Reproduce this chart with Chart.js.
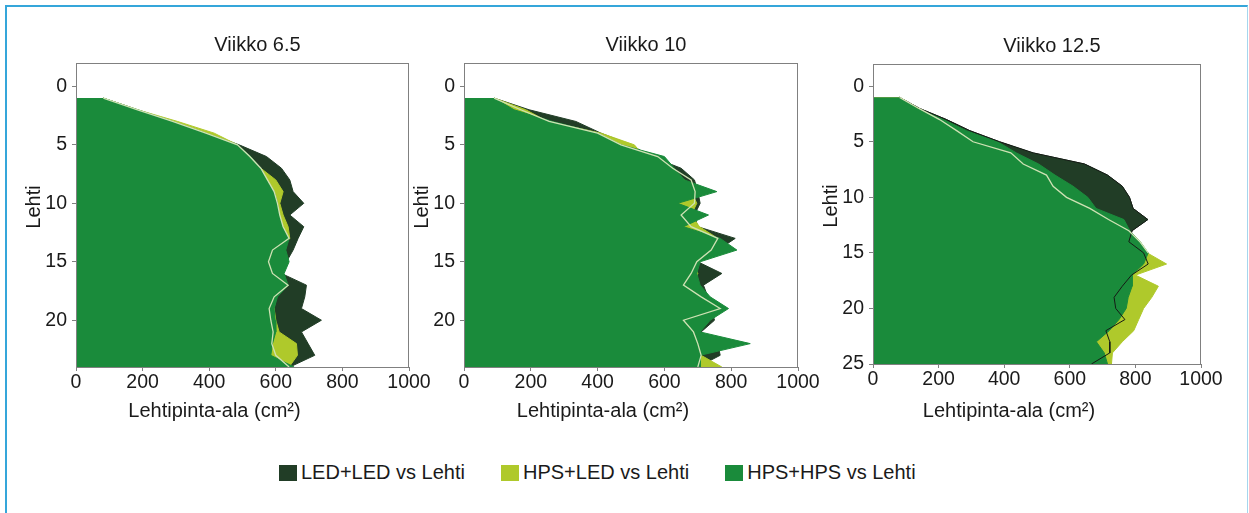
<!DOCTYPE html>
<html lang="fi">
<head>
<meta charset="utf-8">
<title>Lehtipinta-ala</title>
<script src="https://cdn.jsdelivr.net/npm/chart.js@4.4.1/dist/chart.umd.min.js"></script>
<style>
  body { margin: 0; background: #fff; }
  #wrap { position: relative; width: 1249px; height: 513px; overflow: hidden; font-family: "Liberation Sans", Arial, sans-serif; }
  #frame { position: absolute; left: 5px; top: 5px; width: 1240px; height: 530px; border-top: 2px solid #35a6da; border-left: 2px solid #35a6da; border-right: 1px solid #a6d6ee; }
  canvas { position: absolute; top: 0; }
  #legend { position: absolute; left: 279px; top: 461px; display: flex; gap: 36px; font-size: 20px; color: #1a1a1a; }
  .item { display: flex; align-items: center; gap: 4px; }
  .box { width: 18px; height: 16px; }
</style>
</head>
<body>
<div id="wrap">
  <div id="frame"></div>
  <canvas id="c1" width="434" height="440" style="left:0px"></canvas>
  <canvas id="c2" width="413" height="440" style="left:410px"></canvas>
  <canvas id="c3" width="406" height="440" style="left:820px"></canvas>
  <div id="legend"></div>
</div>
<script>
// leaf numbers (y) and ticks
const lehdet24 = [1, 2, 3, 4, 5, 6, 7, 8, 9, 10, 11, 12, 13, 14, 15, 16, 17, 18, 19, 20, 21, 22, 23, 24];
const lehdet25 = [1, 2, 3, 4, 5, 6, 7, 8, 9, 10, 11, 12, 13, 14, 15, 16, 17, 18, 19, 20, 21, 22, 23, 24, 25];
const xTicks = [0, 200, 400, 600, 800, 1000];
const yTicks24 = [0, 5, 10, 15, 20];
const yTicks25 = [0, 5, 10, 15, 20, 25];

const seriesNames = ['LED+LED vs Lehti', 'HPS+LED vs Lehti', 'HPS+HPS vs Lehti'];
const seriesColors = ['#213d26', '#afc92b', '#1a8b3b'];
const paleColor = '#cfe2b4';
const lineColor = '#151a15';
const axisColor = '#808080';
const textColor = '#1a1a1a';
const fontFamily = '"Liberation Sans", Arial, sans-serif';

// Viikko 6.5 (cm2)
const led65 = [82, 185, 290, 395, 490, 572, 617, 642, 652, 684, 642, 684, 667, 652, 632, 617, 692, 687, 677, 737, 677, 697, 717, 642];
const hpsLed65 = [82, 185, 305, 415, 485, 520, 555, 600, 622, 612, 622, 637, 642, 610, 600, 610, 620, 600, 595, 600, 610, 662, 665, 640];
const hps65 = [82, 185, 290, 390, 485, 525, 555, 572, 595, 605, 610, 620, 640, 630, 640, 625, 637, 605, 595, 598, 600, 590, 585, 655];
const pale65 = [82, 185, 290, 390, 485, 522, 555, 575, 595, 605, 612, 622, 640, 590, 578, 590, 637, 595, 580, 585, 592, 588, 600, 640];

// Viikko 10
const led10 = [90, 195, 335, 410, 500, 560, 650, 690, 700, 707, 690, 700, 812, 760, 700, 772, 717, 730, 740, 750, 710, 760, 767, 700];
const hpsLed10 = [90, 185, 250, 410, 510, 540, 600, 660, 680, 697, 680, 705, 760, 740, 690, 700, 690, 720, 740, 700, 700, 720, 710, 772];
const hps10 = [90, 150, 265, 400, 470, 600, 630, 660, 757, 640, 732, 657, 767, 817, 707, 697, 707, 737, 792, 737, 707, 857, 707, 707];
const pale10 = [90, 170, 255, 400, 470, 580, 625, 680, 692, 690, 650, 680, 760, 740, 697, 680, 657, 710, 767, 657, 687, 700, 710, 700];

// Viikko 12.5
const led125 = [81, 142, 224, 295, 386, 488, 645, 715, 760, 782, 793, 838, 790, 780, 825, 839, 788, 760, 735, 740, 768, 710, 722, 722, 666];
const hpsLed125 = [81, 140, 203, 255, 305, 420, 458, 529, 549, 590, 661, 718, 780, 814, 836, 895, 800, 870, 850, 825, 810, 795, 760, 730, 727];
const hps125 = [81, 135, 215, 285, 380, 437, 505, 555, 610, 655, 680, 765, 783, 815, 839, 825, 790, 790, 778, 772, 750, 720, 681, 705, 715];
const pale125 = [81, 140, 203, 255, 305, 420, 458, 529, 549, 590, 661, 718, 780, 814, 839, null, null, null, null, null, null, null, null, null, null];

function pisteet(lehdet, arvot) {
  return arvot.map((v, i) => ({ x: v, y: lehdet[i] }));
}

function alue(i, lehdet, arvot) {
  return {
    label: seriesNames[i],
    data: pisteet(lehdet, arvot),
    borderColor: seriesColors[i],
    backgroundColor: seriesColors[i],
    borderWidth: 1,
    fill: 'origin',
    pointRadius: 0,
    order: 3 - i
  };
}

function viiva(lehdet, arvot, color, width) {
  return {
    label: '',
    data: pisteet(lehdet, arvot),
    borderColor: color,
    borderWidth: width,
    fill: false,
    pointRadius: 0,
    order: 0
  };
}

// titles, axis titles and the box round the plot
const panelTexts = {
  id: 'panelTexts',
  afterDraw(chart, args, opts) {
    const { ctx, chartArea: a } = chart;
    const cx = (a.left + a.right) / 2;
    ctx.save();
    ctx.strokeStyle = axisColor;
    ctx.lineWidth = 1;
    ctx.strokeRect(Math.round(a.left) + 0.5, Math.round(a.top) + 0.5, Math.round(a.right - a.left) - 1, Math.round(a.bottom - a.top));
    ctx.fillStyle = textColor;
    ctx.font = '20px ' + fontFamily;
    ctx.textAlign = 'center';
    ctx.textBaseline = 'middle';
    ctx.fillText(opts.title, cx + 15, a.top - 18);
    ctx.fillText('Lehtipinta-ala (cm²)', cx - 28, opts.xTitleY);
    ctx.translate(a.left - 42, (a.top + a.bottom) / 2 - 8);
    ctx.rotate(-Math.PI / 2);
    ctx.fillText('Lehti', 0, 0);
    ctx.restore();
  }
};

const panels = [
  { id: 'c1', title: 'Viikko 6.5', yWidth: 76, top: 63, bottom: 43, yMax: 24, xTitleY: 411,
    lehdet: lehdet24, yTicks: yTicks24, led: led65, hpsLed: hpsLed65, hps: hps65, pale: pale65, musta: false },
  { id: 'c2', title: 'Viikko 10', yWidth: 54, top: 63, bottom: 43, yMax: 24, xTitleY: 411,
    lehdet: lehdet24, yTicks: yTicks24, led: led10, hpsLed: hpsLed10, hps: hps10, pale: pale10, musta: false },
  { id: 'c3', title: 'Viikko 12.5', yWidth: 53, top: 64, bottom: 46, yMax: 25, xTitleY: 411,
    lehdet: lehdet25, yTicks: yTicks25, led: led125, hpsLed: hpsLed125, hps: hps125, pale: pale125, musta: true }
];

const tickFont = { family: fontFamily, size: 19.5 };

panels.forEach(p => {
  const datasets = [
    alue(0, p.lehdet, p.led),
    alue(1, p.lehdet, p.hpsLed),
    alue(2, p.lehdet, p.hps),
    viiva(p.lehdet, p.pale, paleColor, 1.3)
  ];
  if (p.musta) datasets.push(viiva(p.lehdet, p.led, lineColor, 1));

  new Chart(document.getElementById(p.id), {
    type: 'line',
    data: { datasets },
    plugins: [panelTexts],
    options: {
      responsive: false,
      animation: false,
      indexAxis: 'y',
      elements: { line: { tension: 0 } },
      layout: { padding: { left: 0, right: 25, top: p.top, bottom: p.bottom } },
      plugins: {
        legend: { display: false },
        tooltip: { enabled: false },
        panelTexts: { title: p.title, xTitleY: p.xTitleY }
      },
      scales: {
        x: {
          type: 'linear', min: 0, max: 1000,
          afterBuildTicks: s => { s.ticks = xTicks.map(v => ({ value: v })); },
          afterFit: s => { s.height = 30; },
          ticks: { font: tickFont, color: textColor, padding: 0, maxRotation: 0, callback: v => String(v) },
          grid: { drawOnChartArea: false, tickLength: 4, color: axisColor },
          border: { color: axisColor }
        },
        y: {
          type: 'linear', reverse: true, min: -2, max: p.yMax,
          afterBuildTicks: s => { s.ticks = p.yTicks.map(v => ({ value: v })); },
          afterFit: s => { s.width = p.yWidth; },
          ticks: { font: tickFont, color: textColor, padding: 5, callback: v => String(v) },
          grid: { drawOnChartArea: false, tickLength: 4, color: axisColor },
          border: { color: axisColor }
        }
      }
    }
  });
});

// shared legend
const legendDiv = document.getElementById('legend');
seriesNames.forEach((name, i) => {
  const item = document.createElement('div');
  item.className = 'item';
  const box = document.createElement('span');
  box.className = 'box';
  box.style.background = seriesColors[i];
  const txt = document.createElement('span');
  txt.textContent = name;
  item.appendChild(box);
  item.appendChild(txt);
  legendDiv.appendChild(item);
});
</script>
</body>
</html>
